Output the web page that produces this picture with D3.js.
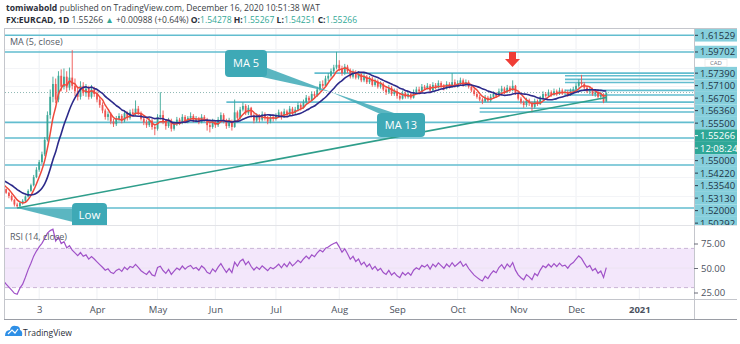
<!DOCTYPE html>
<html><head><meta charset="utf-8">
<script src="https://cdn.jsdelivr.net/npm/d3@7"></script>
<style>body{margin:0;background:#fff}svg{display:block}text{font-family:"Open Sans",sans-serif}</style>
</head><body><svg id="c" width="740" height="344"></svg>
<script>
// ---------- DATA (daily EURCAD, bar 0 = Feb 17 2020, last bar = Dec 16 2020) ----------
// bars before the visible range (Jan 20 - Feb 14), needed for MA / RSI warm-up
const preCloses = [1.4580,1.4612,1.4590,1.4625,1.4601,1.4570,1.4598,1.4620,1.4585,1.4610,1.4595,1.4560,1.4580,1.4545,1.4560,1.4528,1.4540,1.4495,1.4470,1.4430];
const preHighs  = [1.4605,1.4630,1.4622,1.4640,1.4632,1.4610,1.4615,1.4638,1.4625,1.4628,1.4620,1.4600,1.4598,1.4588,1.4575,1.4565,1.4558,1.4548,1.4510,1.4478];
const preLows   = [1.4560,1.4570,1.4578,1.4582,1.4590,1.4555,1.4560,1.4590,1.4570,1.4575,1.4580,1.4548,1.4552,1.4530,1.4535,1.4515,1.4520,1.4488,1.4460,1.4418];

const closes = [
1.4395,1.4352,1.4301,1.4283,1.4318,1.4342,1.4389,1.4450,1.4512,1.4601,
1.4682,1.4765,1.4850,1.5010,1.5280,1.5480,1.5620,1.5450,1.5710,1.5590,
1.5700,1.5580,1.5690,1.5600,1.5540,1.5480,1.5600,1.5520,1.5570,1.5480,
1.5560,1.5510,1.5450,1.5390,1.5330,1.5260,1.5290,1.5210,1.5180,1.5240,
1.5270,1.5220,1.5300,1.5250,1.5310,1.5290,1.5350,1.5300,1.5240,1.5200,
1.5170,1.5220,1.5150,1.5130,1.5260,1.5280,1.5210,1.5160,1.5220,1.5130,
1.5180,1.5230,1.5200,1.5260,1.5210,1.5250,1.5270,1.5220,1.5240,1.5200,
1.5260,1.5230,1.5170,1.5150,1.5210,1.5170,1.5230,1.5280,1.5220,1.5160,
1.5210,1.5150,1.5310,1.5250,1.5340,1.5380,1.5300,1.5360,1.5280,1.5220,
1.5270,1.5230,1.5290,1.5250,1.5210,1.5260,1.5240,1.5270,1.5310,1.5260,
1.5320,1.5280,1.5350,1.5300,1.5340,1.5390,1.5360,1.5420,1.5470,1.5440,
1.5510,1.5490,1.5560,1.5620,1.5600,1.5680,1.5710,1.5760,1.5800,1.5830,
1.5790,1.5740,1.5810,1.5760,1.5700,1.5750,1.5690,1.5730,1.5660,1.5700,
1.5640,1.5680,1.5610,1.5650,1.5590,1.5620,1.5560,1.5530,1.5580,1.5510,
1.5540,1.5490,1.5460,1.5520,1.5480,1.5510,1.5470,1.5530,1.5560,1.5540,
1.5590,1.5570,1.5600,1.5550,1.5610,1.5580,1.5630,1.5600,1.5570,1.5620,
1.5590,1.5640,1.5600,1.5630,1.5660,1.5610,1.5640,1.5590,1.5550,1.5510,
1.5480,1.5450,1.5430,1.5470,1.5440,1.5480,1.5510,1.5490,1.5540,1.5570,
1.5530,1.5580,1.5550,1.5600,1.5520,1.5460,1.5420,1.5390,1.5440,1.5410,
1.5370,1.5430,1.5400,1.5460,1.5510,1.5490,1.5530,1.5500,1.5540,1.5510,
1.5550,1.5520,1.5530,1.5500,1.5540,1.5560,1.5600,1.5640,1.5620,1.5580,
1.5540,1.5560,1.5510,1.5530,1.5480,1.5500,1.54278,1.55266];
const highs = [
1.4440,1.4410,1.4365,1.4322,1.4335,1.4360,1.4402,1.4468,1.4530,1.4625,
1.4710,1.4790,1.4880,1.5040,1.5320,1.5560,1.5700,1.5680,1.5760,1.5780,
1.5790,1.5760,1.5800,1.5990,1.5680,1.5600,1.5650,1.5640,1.5620,1.5600,
1.5610,1.5590,1.5540,1.5480,1.5420,1.5350,1.5320,1.5310,1.5240,1.5270,
1.5300,1.5290,1.5330,1.5320,1.5340,1.5350,1.5440,1.5380,1.5320,1.5260,
1.5230,1.5250,1.5240,1.5180,1.5290,1.5530,1.5330,1.5230,1.5250,1.5240,
1.5210,1.5260,1.5250,1.5290,1.5280,1.5270,1.5310,1.5290,1.5270,1.5260,
1.5290,1.5280,1.5250,1.5200,1.5240,1.5220,1.5260,1.5310,1.5300,1.5240,
1.5250,1.5230,1.5450,1.5330,1.5370,1.5420,1.5400,1.5390,1.5370,1.5300,
1.5300,1.5290,1.5320,1.5310,1.5270,1.5290,1.5280,1.5300,1.5340,1.5320,
1.5350,1.5340,1.5380,1.5370,1.5370,1.5420,1.5410,1.5450,1.5500,1.5490,
1.5540,1.5540,1.5590,1.5650,1.5660,1.5710,1.5740,1.5790,1.5830,1.5972,
1.5880,1.5820,1.5840,1.5830,1.5790,1.5780,1.5770,1.5760,1.5750,1.5730,
1.5720,1.5710,1.5700,1.5680,1.5670,1.5650,1.5640,1.5590,1.5610,1.5600,
1.5570,1.5570,1.5520,1.5550,1.5540,1.5540,1.5530,1.5560,1.5590,1.5590,
1.5620,1.5610,1.5630,1.5620,1.5640,1.5630,1.5660,1.5650,1.5620,1.5650,
1.5640,1.5740,1.5670,1.5660,1.5690,1.5680,1.5670,1.5660,1.5610,1.5570,
1.5530,1.5500,1.5470,1.5500,1.5490,1.5510,1.5540,1.5530,1.5570,1.5600,
1.5590,1.5610,1.5600,1.5660,1.5610,1.5540,1.5480,1.5440,1.5470,1.5460,
1.5430,1.5460,1.5450,1.5490,1.5540,1.5530,1.5560,1.5550,1.5570,1.5560,
1.5580,1.5570,1.5560,1.5550,1.5570,1.5590,1.5630,1.5670,1.5720,1.5640,
1.5600,1.5590,1.5580,1.5560,1.5550,1.5530,1.5520,1.55267];
const lows = [
1.4370,1.4335,1.4280,1.4263,1.4268,1.4300,1.4330,1.4378,1.4440,1.4500,
1.4590,1.4660,1.4745,1.4830,1.4990,1.5240,1.5420,1.5410,1.5420,1.5540,
1.5560,1.5530,1.5550,1.5560,1.5490,1.5440,1.5450,1.5490,1.5480,1.5450,
1.5460,1.5480,1.5420,1.5360,1.5300,1.5230,1.5220,1.5180,1.5150,1.5160,
1.5210,1.5190,1.5200,1.5220,1.5230,1.5260,1.5270,1.5280,1.5220,1.5170,
1.5140,1.5150,1.5120,1.5060,1.5110,1.5230,1.5180,1.5120,1.5140,1.5100,
1.5110,1.5160,1.5170,1.5180,1.5190,1.5190,1.5230,1.5200,1.5200,1.5180,
1.5190,1.5210,1.5110,1.5090,1.5130,1.5140,1.5150,1.5210,1.5190,1.5130,
1.5140,1.5110,1.5140,1.5220,1.5230,1.5320,1.5280,1.5280,1.5250,1.5190,
1.5200,1.5200,1.5210,1.5220,1.5180,1.5190,1.5210,1.5220,1.5250,1.5230,
1.5250,1.5260,1.5270,1.5280,1.5290,1.5320,1.5330,1.5350,1.5400,1.5420,
1.5430,1.5460,1.5480,1.5540,1.5570,1.5590,1.5650,1.5690,1.5740,1.5780,
1.5760,1.5710,1.5720,1.5740,1.5680,1.5680,1.5670,1.5670,1.5640,1.5640,
1.5620,1.5620,1.5590,1.5590,1.5570,1.5570,1.5540,1.5500,1.5510,1.5490,
1.5490,1.5460,1.5440,1.5450,1.5460,1.5460,1.5450,1.5460,1.5510,1.5520,
1.5530,1.5550,1.5560,1.5530,1.5540,1.5560,1.5570,1.5580,1.5550,1.5560,
1.5570,1.5580,1.5580,1.5580,1.5610,1.5590,1.5590,1.5570,1.5530,1.5490,
1.5460,1.5430,1.5400,1.5420,1.5420,1.5420,1.5460,1.5470,1.5480,1.5520,
1.5510,1.5520,1.5530,1.5540,1.5500,1.5440,1.5400,1.5360,1.5370,1.5380,
1.5310,1.5350,1.5380,1.5390,1.5450,1.5470,1.5480,1.5480,1.5490,1.5490,
1.5500,1.5500,1.5500,1.5480,1.5490,1.5520,1.5540,1.5580,1.5600,1.5560,
1.5520,1.5510,1.5490,1.5480,1.5460,1.5450,1.5410,1.54251];

// horizontal drawing levels and the bar they start from
const hLevels = [1.61529,1.59702,1.57390,1.57100,1.56705,1.56360,1.55500,1.55000,1.54220,1.53540,1.53130,1.52000,1.50292,1.4734,1.4263];
const hStartBar = [-20,-20,111,202,202,202,202,202,79,171,171,-20,-20,-20,-20];
const labeledLevels = 13;
const lastPrice = 1.55266;
const countdown = "12:08:24";
// trend line anchors [bar, price]
const trendFrom = [3, 1.4263];
const trendTo = [217, 1.5472];
// time axis
const tickBars = [11,32,54,75,97,120,141,163,185,206,229];
const tickLabels = ["3","Apr","May","Jun","Jul","Aug","Sep","Oct","Nov","Dec","2021"];
const rsiTicks = [25,50,75];

// ---------- helpers ----------
const allC = preCloses.concat(closes), allH = preHighs.concat(highs), allL = preLows.concat(lows);
const off = preCloses.length;
const bars = allC.map((c,k)=>{
  const o = k>0 ? allC[k-1] : c;
  return {i:k-off, o, c, h:Math.max(allH[k],o,c), l:Math.min(allL[k],o,c)};
});
function sma(n){ const out=[]; for(let k=n-1;k<allC.length;k++){ let s=0; for(let j=k-n+1;j<=k;j++) s+=allC[j]; out.push({i:k-off, v:s/n}); } return out; }
function rsi(n){
  const out=[]; let g=0,l=0;
  for(let k=1;k<=n;k++){ const d=allC[k]-allC[k-1]; if(d>0) g+=d; else l-=d; }
  g/=n; l/=n; out.push({i:n-off, v:100-100/(1+g/l)});
  for(let k=n+1;k<allC.length;k++){ const d=allC[k]-allC[k-1];
    g=(g*(n-1)+Math.max(d,0))/n; l=(l*(n-1)+Math.max(-d,0))/n;
    out.push({i:k-off, v: l===0?100:100-100/(1+g/l)}); }
  return out;
}

// ---------- scales ----------
const L=5, R=694, mT=29, mB=225, rT=225, rB=299, aB=319;
const x = d3.scaleLinear().domain([0,217]).range([8.9,606.3]);
const y = d3.scaleLinear().domain([1.40774,1.62218]).range([mB,mT]);
const yR = d3.scaleLinear().domain([18.37,93.88]).range([rB,rT]);

const svg = d3.select("#c");
const defs = svg.append("defs");
defs.append("clipPath").attr("id","cm").append("rect").attr("x",L).attr("y",mT).attr("width",R-L).attr("height",mB-mT);
defs.append("clipPath").attr("id","cr").append("rect").attr("x",L).attr("y",rT).attr("width",R-L).attr("height",rB-rT);

// grid
const grid = svg.append("g");
grid.selectAll("line.v").data(tickBars).join("line")
  .attr("x1",d=>x(d)).attr("x2",d=>x(d)).attr("y1",mT).attr("y2",rB)
  .attr("stroke","#eef0f4").attr("stroke-width",1);
grid.selectAll("line.h").data([1.44,1.46,1.48,1.50,1.52,1.54,1.56,1.58,1.60]).join("line")
  .attr("x1",L).attr("x2",R).attr("y1",d=>Math.round(y(d))+0.5).attr("y2",d=>Math.round(y(d))+0.5)
  .attr("stroke","#f3f4f7");

// main pane
const main = svg.append("g").attr("clip-path","url(#cm)");
hLevels.forEach((v,k)=>{
  main.append("line").attr("x1",Math.max(L,x(hStartBar[k]))).attr("x2",R)
    .attr("y1",y(v)).attr("y2",y(v)).attr("stroke","#62bdcf").attr("stroke-width",1.6);
});
main.append("line").attr("x1",L).attr("x2",R).attr("y1",y(lastPrice)).attr("y2",y(lastPrice))
  .attr("stroke","#8fb8b4").attr("stroke-width",1).attr("stroke-dasharray","1,2");

const cg = main.append("g");
cg.selectAll("line").data(bars).join("line")
  .attr("x1",d=>x(d.i)).attr("x2",d=>x(d.i)).attr("y1",d=>y(d.h)).attr("y2",d=>y(d.l))
  .attr("stroke",d=>d.c>=d.o?"#3ba796":"#ef5350").attr("stroke-width",0.9);
cg.selectAll("rect").data(bars).join("rect")
  .attr("x",d=>x(d.i)-0.9).attr("width",1.8)
  .attr("y",d=>y(Math.max(d.o,d.c))).attr("height",d=>Math.max(0.8,Math.abs(y(d.o)-y(d.c))))
  .attr("fill",d=>d.c>=d.o?"#3ba796":"#ef5350");

const lineGen = d3.line().x(d=>x(d.i)).y(d=>y(d.v)).curve(d3.curveMonotoneX);
main.append("path").datum(sma(5)).attr("d",lineGen).attr("fill","none").attr("stroke","#ee4a3c").attr("stroke-width",1.5);
main.append("path").datum(sma(13)).attr("d",lineGen).attr("fill","none").attr("stroke","#2c2a8a").attr("stroke-width",1.6);

// trend line
main.append("line").attr("x1",x(trendFrom[0])).attr("y1",y(trendFrom[1]))
  .attr("x2",x(trendTo[0])).attr("y2",y(trendTo[1])).attr("stroke","#2f9e8b").attr("stroke-width",1.6);

// callouts
const cc = "#3ea9b6";
const ann = main.append("g");
ann.append("polygon").attr("points","262,66 262,77 331,92").attr("fill",cc).attr("opacity",0.85);
ann.append("polygon").attr("points","331,92 378,113 394,113").attr("fill",cc).attr("opacity",0.85);
ann.append("polygon").attr("points","17,208 73,209 73,222").attr("fill",cc).attr("opacity",0.85);
ann.append("rect").attr("x",225).attr("y",50).attr("width",42).attr("height",27).attr("rx",4).attr("fill",cc);
ann.append("rect").attr("x",377).attr("y",113).attr("width",48).attr("height",24).attr("rx",4).attr("fill",cc);
ann.append("rect").attr("x",72).attr("y",203).attr("width",35).attr("height",26).attr("rx",4).attr("fill",cc);
ann.append("text").attr("x",246).attr("y",67).attr("text-anchor","middle").attr("fill","#fff").attr("font-size",11).text("MA 5");
ann.append("text").attr("x",401).attr("y",129).attr("text-anchor","middle").attr("fill","#fff").attr("font-size",11).text("MA 13");
ann.append("text").attr("x",89.5).attr("y",219).attr("text-anchor","middle").attr("fill","#fff").attr("font-size",11.5).text("Low");
// red arrow
ann.append("path").attr("d","M509,52 L516,52 L516,59 L520,59 L512.5,67 L505,59 L509,59 Z").attr("fill","#ef3d36");

svg.append("text").attr("x",10).attr("y",45).attr("font-size",9).attr("fill","#555b66").text("MA (5, close)");

// RSI pane
const rp = svg.append("g").attr("clip-path","url(#cr)");
rp.append("rect").attr("x",L).attr("width",R-L).attr("y",yR(70)).attr("height",yR(30)-yR(70)).attr("fill","#f3e7fb");
[70,30].forEach(v=>rp.append("line").attr("x1",L).attr("x2",R).attr("y1",yR(v)).attr("y2",yR(v))
  .attr("stroke","#c9b4d6").attr("stroke-dasharray","4,3"));
rp.append("line").attr("x1",L).attr("x2",R).attr("y1",yR(50)).attr("y2",yR(50)).attr("stroke","#ece4f1");
rp.append("path").datum(rsi(14)).attr("d",d3.line().x(d=>x(d.i)).y(d=>yR(d.v)))
  .attr("fill","none").attr("stroke","#a052c8").attr("stroke-width",1.2);
svg.append("text").attr("x",10).attr("y",240).attr("font-size",9).attr("fill","#555b66").text("RSI (14, close)");

// frame lines
const fr = svg.append("g").attr("stroke","#c4c6cc").attr("shape-rendering","crispEdges");
fr.append("line").attr("x1",L-1).attr("x2",737).attr("y1",28.5).attr("y2",28.5);
fr.append("line").attr("x1",L-0.5).attr("x2",L-0.5).attr("y1",28).attr("y2",aB);
fr.append("line").attr("x1",L-1).attr("x2",737).attr("y1",mB+0.5).attr("y2",mB+0.5).attr("stroke","#e2e3e7");
fr.append("line").attr("x1",L-1).attr("x2",737).attr("y1",rB+0.5).attr("y2",rB+0.5);
fr.append("line").attr("x1",L-1).attr("x2",737).attr("y1",aB+0.5).attr("y2",aB+0.5).attr("stroke","#9a9da5");
fr.append("line").attr("x1",R+0.5).attr("x2",R+0.5).attr("y1",28).attr("y2",aB);

// price-axis labels (stacked like TradingView)
let items = hLevels.slice(0,labeledLevels).map(v=>({v,text:v.toFixed(5),kind:"line"}));
items.push({v:lastPrice,text:lastPrice.toFixed(5),kind:"cur"});
items.sort((a,b)=>b.v-a.v);
const ci = items.findIndex(d=>d.kind==="cur");
items.splice(ci+1,0,{v:lastPrice,text:countdown,kind:"cd"});
const H=12.5; let prev=-1e9;
items.forEach(d=>{ d.pos=Math.max(y(d.v),prev+H); prev=d.pos; });
const ax = svg.append("g");
defs.append("clipPath").attr("id","ca").append("rect").attr("x",R).attr("y",mT).attr("width",46).attr("height",mB-mT);
const axG = ax.append("g").attr("clip-path","url(#ca)");
axG.selectAll("rect").data(items).join("rect")
  .attr("x",R+1).attr("width",42).attr("y",d=>d.pos-H/2).attr("height",H)
  .attr("fill",d=>d.kind==="line"?"#86cfdc":"#2ea797");
axG.selectAll("line").data(items).join("line")
  .attr("x1",R+1).attr("x2",R+4).attr("y1",d=>d.pos).attr("y2",d=>d.pos)
  .attr("stroke",d=>d.kind==="line"?"#2a3a48":"#fff");
axG.selectAll("text").data(items).join("text")
  .attr("x",R+6).attr("y",(d,k)=>d.pos+(k===1?3.1:3.6)).attr("font-size",9.5)
  .attr("fill",d=>d.kind==="line"?"#1f3344":"#fff").text(d=>d.text);
// currency badge (in the free gap of the price scale)
ax.append("rect").attr("x",705).attr("y",59.3).attr("width",22).attr("height",7.2).attr("fill","#fff").attr("stroke","#e0e0e0").attr("stroke-width",0.6);
ax.append("text").attr("x",716).attr("y",64.8).attr("text-anchor","middle").attr("font-size",6).attr("fill","#707582").text("CAD");

// RSI axis
const ra = svg.append("g").attr("transform",`translate(${R},0)`)
  .call(d3.axisRight(yR).tickValues(rsiTicks).tickFormat(d3.format(".2f")).tickSize(4).tickPadding(3));
ra.select(".domain").remove();
ra.selectAll("line").attr("stroke","#6a6d78");
ra.selectAll("text").attr("font-size",9.5).attr("fill","#4c525e").attr("font-family","Open Sans, sans-serif");

// time axis
const ta = svg.append("g").attr("transform",`translate(0,${rB})`)
  .call(d3.axisBottom(x).tickValues(tickBars).tickFormat((d,k)=>tickLabels[k]).tickSize(0).tickPadding(7));
ta.select(".domain").remove();
ta.selectAll("text").attr("font-size",9.5).attr("fill","#4c525e").attr("font-family","Open Sans, sans-serif")
  .attr("font-weight",(d,k)=>tickLabels[k]==="2021"?"bold":"normal");

// header
function fit(t,w){ const m=t.node().getComputedTextLength(); const fs=+t.attr("font-size"); t.attr("font-size",fs*w/m); }
const h1 = svg.append("text").attr("x",6).attr("y",10.5).attr("font-size",10).attr("fill","#3b3f47");
h1.append("tspan").attr("font-weight","bold").attr("fill","#2a2e39").text("tomiwabold");
h1.append("tspan").text(" published on TradingView.com, December 16, 2020 10:51:38 WAT");
fit(h1,314);
const h2 = svg.append("text").attr("x",6).attr("y",22.5).attr("font-size",10).attr("fill","#3b3f47");
const tc = "#33a897";
h2.append("tspan").attr("font-weight","bold").attr("fill","#2a2e39").text("FX:EURCAD, 1D");
h2.append("tspan").text(" 1.55266 ");
h2.append("tspan").attr("fill",tc).text("▲");
h2.append("tspan").text(" +0.00988 (+0.64%) ");
[["O:","1.54278"],["H:","1.55267"],["L:","1.54251"],["C:","1.55266"]].forEach((p,k)=>{
  h2.append("tspan").attr("font-weight","bold").attr("fill","#2a2e39").text((k?" ":"")+p[0]);
  h2.append("tspan").attr("fill",tc).text(p[1]);
});
fit(h2,352);

// TradingView logo
const lg = svg.append("g");
lg.append("path").attr("d","M5,336 Q5,330 10,330 Q11,325 16,326 Q20,326 20,330 Q23,331 22,336 Z").attr("fill","#2e8fe6");
lg.append("path").attr("d","M8,334 L12,330 L15,333 L18,329").attr("fill","none").attr("stroke","#fff").attr("stroke-width",1.2);
const lt = lg.append("text").attr("x",23).attr("y",335.5).attr("font-size",10).attr("fill","#2a2e39").text("TradingView");
fit(lt,49);
</script></body></html>
